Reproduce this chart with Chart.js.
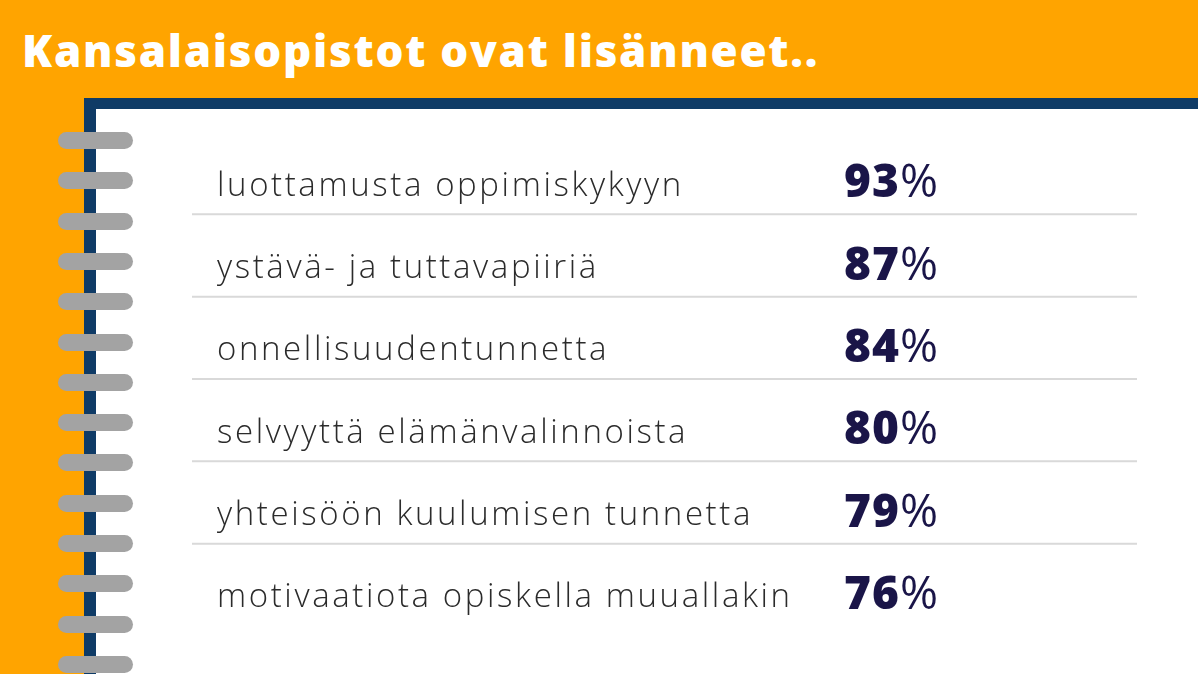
<!DOCTYPE html>
<html>
<head>
<meta charset="utf-8">
<script src="https://cdn.jsdelivr.net/npm/chart.js@4"></script>
<style>
  body { margin: 0; width: 1198px; height: 674px; overflow: hidden; background: #ffa400; font-family: "Open Sans", sans-serif; position: relative; }
  #title { position: absolute; left: 22px; top: 20px; color: #fff; font: 800 44px "Open Sans", sans-serif; letter-spacing: 1.7px; }
  #panel { position: absolute; left: 84px; top: 98px; width: 1200px; height: 700px; background: #fff; border-top: 11px solid #0f3b66; border-left: 12px solid #0f3b66; box-sizing: border-box; }
  .ring { position: absolute; left: 58px; width: 75px; height: 17px; border-radius: 9px; background: #a3a3a3; }
  #wrap { position: absolute; left: 192px; top: 130px; width: 945px; height: 494px; }
</style>
</head>
<body>
<div id="title">Kansalaisopistot ovat lisänneet..</div>
<div id="panel"></div>
<div id="wrap"><canvas id="chart"></canvas></div>
<script>
const categories = [
  "luottamusta oppimiskykyyn",
  "ystävä- ja tuttavapiiriä",
  "onnellisuudentunnetta",
  "selvyyttä elämänvalinnoista",
  "yhteisöön kuulumisen tunnetta",
  "motivaatiota opiskella muuallakin"
];
const values = [93, 87, 84, 80, 79, 76];

// spiral rings
for (let i = 0; i < 14; i++) {
  let r = document.createElement("div");
  r.className = "ring";
  r.style.top = (132 + i * 40.3) + "px";
  document.body.appendChild(r);
}

const rowText = {
  id: "rowText",
  afterDatasetsDraw(chart) {
    let ctx = chart.ctx;
    let y = chart.scales.y;
    let step = y.getPixelForValue(1) - y.getPixelForValue(0);
    ctx.save();
    categories.forEach((c, i) => {
      let cy = y.getPixelForValue(i);
      ctx.strokeStyle = "#d9d9d9";
      ctx.lineWidth = 2;
      ctx.beginPath();
      ctx.moveTo(0, cy + step / 2 + 2);
      ctx.lineTo(chart.width, cy + step / 2 + 2);
      ctx.stroke();

      ctx.textBaseline = "middle";
      ctx.fillStyle = "#2b2b2b";
      ctx.letterSpacing = "2.6px";
      ctx.font = "300 33px 'Open Sans', sans-serif";
      ctx.fillText(c, 25, cy + 15);

      ctx.fillStyle = "#1a1548";
      ctx.letterSpacing = "1px";
      ctx.font = "800 46px 'Open Sans', sans-serif";
      let num = String(values[i]);
      ctx.fillText(num, 652, cy + 13);
      let w = ctx.measureText(num).width;
      ctx.font = "400 46px 'Open Sans', sans-serif";
      ctx.fillText("%", 652 + w, cy + 13);
    });
    ctx.restore();
  }
};

new Chart(document.getElementById("chart"), {
  type: "bar",
  data: {
    labels: categories,
    datasets: [{ data: values, backgroundColor: "rgba(0,0,0,0)" }]
  },
  options: {
    indexAxis: "y",
    responsive: true,
    maintainAspectRatio: false,
    animation: false,
    layout: { padding: 0 },
    plugins: { legend: { display: false }, tooltip: { enabled: false } },
    scales: {
      x: { display: false, min: 0, max: 100 },
      y: { display: false }
    }
  },
  plugins: [rowText]
});
</script>
</body>
</html>
